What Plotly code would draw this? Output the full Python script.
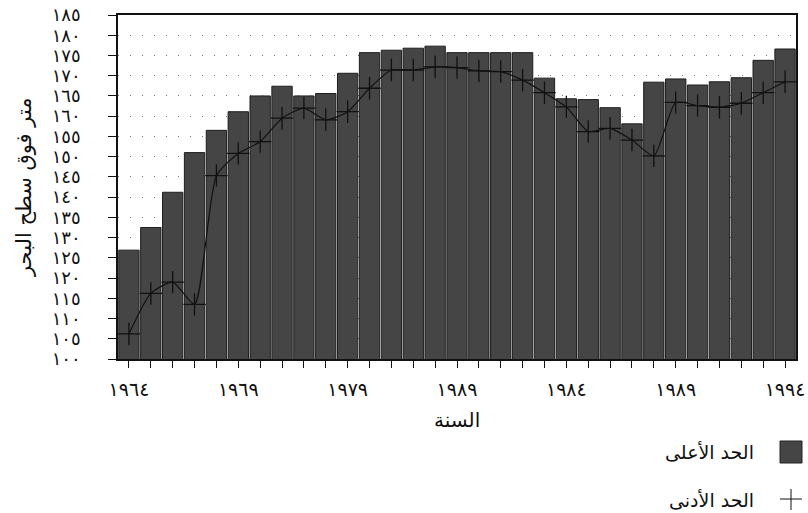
import plotly.graph_objects as go

years = list(range(1964, 1995))
upper = [126.9, 132.5, 141.2, 151.0, 156.5, 161.1, 165.0, 167.4, 165.0, 165.6,
         170.6, 175.7, 176.3, 176.8, 177.3, 175.7, 175.7, 175.7, 175.7, 169.4,
         164.3, 164.1, 162.1, 158.1, 168.4, 169.2, 167.7, 168.5, 169.5, 173.8, 176.6]
lower = [106.2, 116.2, 119.0, 113.5, 145.3, 150.8, 153.7, 159.5, 162.0, 159.1,
         161.1, 166.9, 171.4, 171.4, 172.2, 172.0, 171.2, 171.0, 168.9, 165.8,
         162.3, 156.2, 157.0, 154.1, 150.2, 163.4, 162.6, 162.2, 163.2, 165.8, 168.5]

y_tickvals = list(range(100, 190, 5))
y_ticktext = ["١٠٠", "١٠٥", "١١٠", "١١٥", "١٢٠", "١٢٥", "١٣٠", "١٣٥", "١٤٠",
              "١٤٥", "١٥٠", "١٥٥", "١٦٠", "١٦٥", "١٧٠", "١٧٥", "١٨٠", "١٨٥"]
x_label_years = [1964, 1969, 1974, 1979, 1984, 1989, 1994]
x_label_text = ["١٩٦٤", "١٩٦٩", "١٩٧٩", "١٩٨٩", "١٩٨٤", "١٩٨٩", "١٩٩٤"]

name_upper = "الحد الأعلى"
name_lower = "الحد الأدنى"
x_title = "السنة"
y_title = "متر فوق سطح البحر"

FONT = "DejaVu Sans"
BAR_COLOR = "#454545"

label_map = dict(zip(x_label_years, x_label_text))
x_ticktext = [label_map.get(y, "") for y in years]

fig = go.Figure()
fig.add_trace(go.Bar(
    x=years, y=upper, name=name_upper,
    marker=dict(color=BAR_COLOR, line=dict(color="#1e1e1e", width=1)),
    showlegend=False,
))
fig.add_trace(go.Scatter(
    x=years, y=lower, name=name_lower, mode="lines+markers",
    line=dict(color="#111111", width=1.2, shape="spline", smoothing=0.6),
    marker=dict(symbol="cross-thin-open", size=16,
                line=dict(color="#111111", width=1.3)),
    showlegend=False,
))

W, H = 808, 513
L, R, T, B = 118, 12, 15, 513 - 359
pw, ph = W - L - R, H - T - B

def px_x(p):
    return (p - L) / pw

def px_y(p):
    return (H - B - p) / ph

# custom right-to-left legend
fig.add_shape(type="rect", xref="paper", yref="paper",
              x0=px_x(780), x1=px_x(802), y0=px_y(463), y1=px_y(441),
              fillcolor=BAR_COLOR, line=dict(color="#222222", width=1))
fig.add_shape(type="line", xref="paper", yref="paper",
              x0=px_x(780), x1=px_x(802), y0=px_y(499), y1=px_y(499),
              line=dict(color="#111111", width=1))
fig.add_shape(type="line", xref="paper", yref="paper",
              x0=px_x(791), x1=px_x(791), y0=px_y(489), y1=px_y(510),
              line=dict(color="#111111", width=1))
fig.add_annotation(text=name_upper, xref="paper", yref="paper",
                   x=px_x(756), y=px_y(452), xanchor="right", yanchor="middle",
                   showarrow=False, font=dict(family=FONT, size=19, color="#111"))
fig.add_annotation(text=name_lower, xref="paper", yref="paper",
                   x=px_x(756), y=px_y(500), xanchor="right", yanchor="middle",
                   showarrow=False, font=dict(family=FONT, size=19, color="#111"))
fig.add_annotation(text=x_title, xref="paper", yref="paper",
                   x=0.5, y=px_y(420), xanchor="center", yanchor="middle",
                   showarrow=False, font=dict(family=FONT, size=20, color="#111"))
fig.add_annotation(text=y_title, xref="paper", yref="paper",
                   x=px_x(24), y=0.5, xanchor="center", yanchor="middle",
                   textangle=-90, showarrow=False,
                   font=dict(family=FONT, size=21, color="#111"))

fig.update_layout(
    width=W, height=H,
    margin=dict(l=L, r=R, t=T, b=B, autoexpand=False),
    paper_bgcolor="white", plot_bgcolor="white",
    bargap=0.07,
    font=dict(family=FONT, size=16, color="#111"),
    xaxis=dict(range=[1963.5, 1994.5], tickvals=years, ticktext=x_ticktext,
               ticks="outside", ticklen=7, tickwidth=1, tickcolor="#111",
               showline=True, linecolor="#111", linewidth=1.5, mirror=True,
               showgrid=False, zeroline=False, ticklabelstandoff=5,
               ticklabeloverflow="allow", automargin=False,
               tickfont=dict(family=FONT, size=19)),
    yaxis=dict(range=[100, 185], tickvals=y_tickvals, ticktext=y_ticktext,
               ticks="outside", ticklen=8, tickwidth=1, tickcolor="#111",
               showline=True, linecolor="#111", linewidth=1.5, mirror=True,
               showgrid=True, gridcolor="#777777", gridwidth=1,
               griddash="1px,11px", zeroline=False, ticklabelstandoff=24,
               ticklabeloverflow="allow", automargin=False,
               tickfont=dict(family=FONT, size=18)),
)

fig.write_html("out.html",
               config={"displayModeBar": False},
               post_script="document.body.style.margin='0';document.body.style.overflow='hidden';")
